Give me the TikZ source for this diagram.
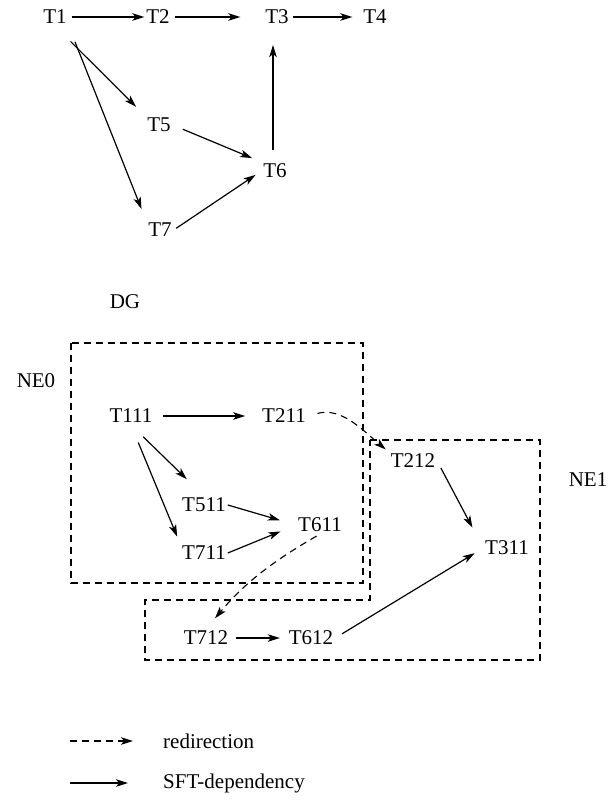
\documentclass[tikz,border=0pt]{standalone}
\usepackage{fontspec}
\setmainfont{Liberation Serif}
\usetikzlibrary{arrows.meta,calc}

\begin{document}
\begin{tikzpicture}[
    x=1pt, y=1pt,
    task/.style={
        inner sep=2pt, outer sep=0pt, font=\fontsize{21}{25}\selectfont
    },
    % SFT-dependency: solid arrow
    sft/.style={
        -{Stealth[length=12pt,width=7.5pt,inset=3pt]}, line width=1.2pt, black
    },
    % Redirection: dashed arrow
    redir/.style={
        -{Stealth[length=12pt,width=7.5pt,inset=3pt]}, line width=1.1pt, black,
        dash pattern=on 7pt off 5pt
    },
    % Network element: dashed outline
    region/.style={
        line width=1.1pt, black, dash pattern=on 7pt off 5pt
    },
    lbl/.style={
        inner sep=0pt, font=\fontsize{21}{25}\selectfont
    }
]
\useasboundingbox (0,0) rectangle (608,-801);

% === Dependency graph (DG) ===
\node[task] (T1) at (55,-17)  {T1};
\node[task] (T2) at (158,-17) {T2};
\node[task] (T3) at (277,-17) {T3};
\node[task] (T4) at (375,-17) {T4};
\node[task] (T5) at (159,-125) {T5};
\node[task] (T6) at (275,-171) {T6};
\node[task] (T7) at (160,-230) {T7};

\draw[sft, shorten <=3pt] (T1.east) -- (T2.west);
\draw[sft, shorten <=3pt, shorten >=23pt] (T2.east) -- (T3.west);
\draw[sft, shorten <=2pt, shorten >=9pt] (T3.east) -- (T4.west);
\draw[sft, shorten <=22pt, shorten >=13pt] (T1.south) -- (T5.north west);
\draw[sft, shorten <=17pt, shorten >=13pt] (T1.south east) -- (T7.north west);
\draw[sft, shorten <=11pt, shorten >=10pt] (T5.east) -- (T6.north west);
\draw[sft, shorten <=3pt, shorten >=7pt] (T7.east) -- (T6.west);
\draw[sft, shorten <=12pt, shorten >=19pt] ([xshift=-2pt]T6.north) -- ([xshift=-2pt]T6.north |- T3.south);

\node[lbl] (DG) at (125,-302) {DG};

% ============================================================
% === Network elements NE0 and NE1
% ============================================================
\draw[region] (71,-343) rectangle (363,-583);
\draw[region] (370,-440) -- (540,-440) -- (540,-660) -- (145,-660)
    -- (145,-600) -- (370,-600) -- cycle;

\node[lbl] (NE0) at (36,-381) {NE0};
\node[lbl] (NE1) at (588,-480) {NE1};

% --- tasks placed on NE0
\node[task] (T111) at (131,-416) {T111};
\node[task] (T211) at (284,-416) {T211};
\node[task] (T511) at (204,-505) {T511};
\node[task] (T611) at (320,-525) {T611};
\node[task] (T711) at (204,-553) {T711};

% --- tasks placed on NE1
\node[task] (T212) at (413,-461) {T212};
\node[task] (T311) at (507,-548) {T311};
\node[task] (T712) at (206,-638) {T712};
\node[task] (T612) at (311,-638) {T612};

% === SFT-dependencies
\draw[sft, shorten <=9pt, shorten >=15pt] (T111.east) -- (T211.west);
\draw[sft, shorten <=17pt, shorten >=24pt] (T111.south) -- (T511.north);
\draw[sft, shorten <=19pt, shorten >=8pt] (T111.south) -- (T711.north west);
\draw[sft, shorten >=17pt] (T511.east) -- (T611.west);
\draw[sft, shorten >=17pt] (T711.east) -- (T611.west);
\draw[sft, shorten <=8pt, shorten >=23pt] (T212.east) -- (T311.west);
\draw[sft, shorten <=6pt, shorten >=7pt] (T712.east) -- (T612.west);
\draw[sft, shorten <=8pt, shorten >=10pt] (T612.east) -- (T311.west);

% === Redirections
\draw[redir, shorten <=10pt, shorten >=4pt] (T211.east) to[out=15,in=140] (T212.north west);
\draw[redir, shorten <=4pt, shorten >=14pt] (T611.south) to[out=210,in=50] (T712.north);

% ============================================================
% === Legend ===
% ============================================================
\node[lbl, anchor=west] (redirkey) at (163,-741) {redirection};
\node[lbl, anchor=west] (sftkey) at (163,-783) {SFT-dependency};
\draw[redir] ([xshift=-93pt]redirkey.west) -- ([xshift=-30pt]redirkey.west);
\draw[sft] ([xshift=-93pt]sftkey.west) -- ([xshift=-35pt]sftkey.west);

\end{tikzpicture}
\end{document}
